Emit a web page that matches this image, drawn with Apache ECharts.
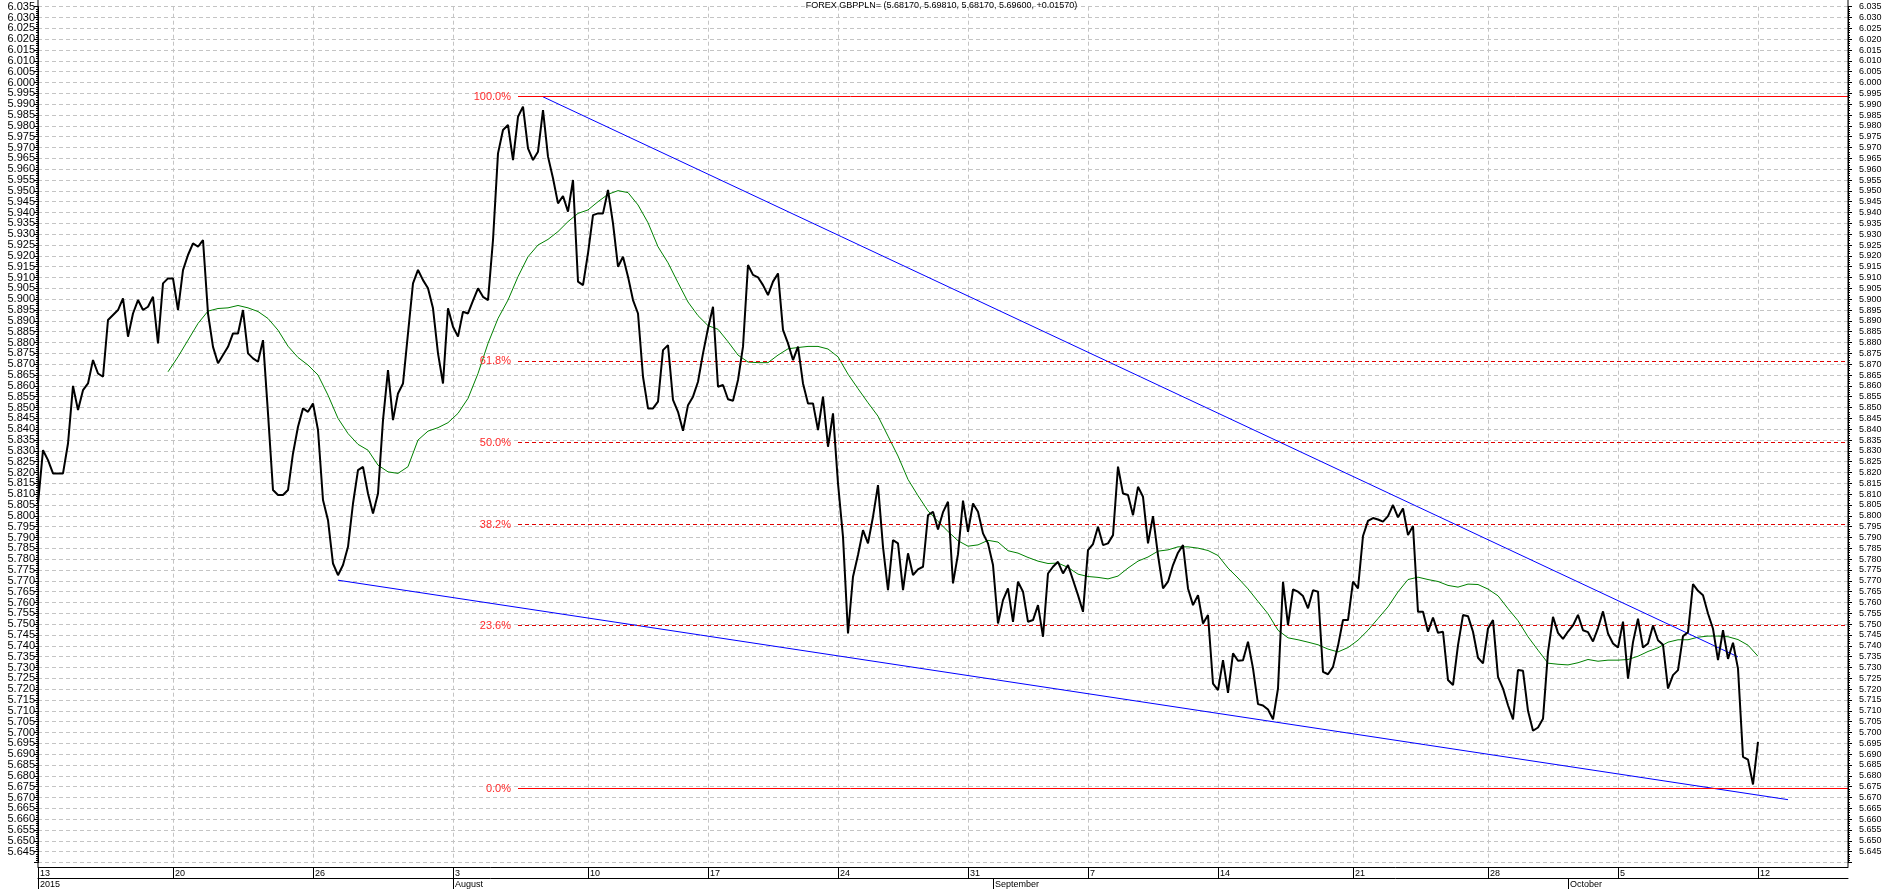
<!DOCTYPE html>
<html>
<head>
<meta charset="utf-8">
<script src="https://cdn.jsdelivr.net/npm/echarts@6/dist/echarts.min.js"></script>
<style>
html,body{margin:0;padding:0;background:#fff;}
#chart{width:1883px;height:889px;}
</style>
</head>
<body>
<div id="chart"></div>
<script>
// ---------- DATA ----------
const titleText = 'FOREX GBPPLN= (5.68170, 5.69810, 5.68170, 5.69600, +0.01570)';

// x slots (one slot per sample on the category axis)
const slotCount = 363;
const categories = Array.from({length: slotCount}, (_, i) => String(i));

// weekly tick labels (slot index -> label)
const dayTickIdx    = [0, 27, 55, 83, 110, 134, 160, 186, 210, 236, 263, 290, 316, 344];
const dayTickLabels = ['13','20','26','3','10','17','24','31','7','14','21','28','5','12'];
// month row labels
const monthTickIdx    = [0, 83, 191, 306];
const monthTickLabels = ['2015','August','September','October'];

// y axis
const yMin = 5.640, yMax = 6.035, yStep = 0.005;

// GBPPLN close, one value per slot
const price = [
 5.8057,5.8303,5.8257,5.8196,5.8196,5.8196,5.8334,5.8600,5.8488,5.8580, // 0
 5.8611,5.8719,5.8657,5.8642,5.8904,5.8927,5.8950,5.9004,5.8827,5.8934, // 10
 5.8996,5.8950,5.8965,5.9011,5.8796,5.9073,5.9096,5.9096,5.8950,5.9134, // 20
 5.9204,5.9258,5.9242,5.9273,5.8934,5.8780,5.8704,5.8742,5.8780,5.8842, // 30
 5.8842,5.8950,5.8750,5.8727,5.8711,5.8811,5.8473,5.8119,5.8096,5.8096, // 40
 5.8119,5.8288,5.8411,5.8496,5.8480,5.8519,5.8396,5.8073,5.7980,5.7780, // 50
 5.7726,5.7773,5.7857,5.8057,5.8211,5.8226,5.8103,5.8011,5.8103,5.8442, // 60
 5.8673,5.8442,5.8565,5.8611,5.8842,5.9073,5.9135,5.9088,5.9050,5.8958, // 70
 5.8750,5.8611,5.8958,5.8873,5.8827,5.8942,5.8934,5.8993,5.9050,5.9011, // 80
 5.8996,5.9273,5.9673,5.9781,5.9804,5.9642,5.9842,5.9889,5.9696,5.9642, // 90
 5.9681,5.9873,5.9658,5.9558,5.9442,5.9476,5.9404,5.9550,5.9081,5.9065, // 100
 5.9212,5.9388,5.9396,5.9396,5.9504,5.9350,5.9150,5.9196,5.9104,5.8996, // 110
 5.8934,5.8642,5.8496,5.8496,5.8527,5.8765,5.8788,5.8535,5.8480,5.8393, // 120
 5.8511,5.8550,5.8619,5.8750,5.8865,5.8965,5.8596,5.8604,5.8538,5.8531, // 130
 5.8627,5.8781,5.9158,5.9112,5.9101,5.9065,5.9019,5.9081,5.9119,5.8858, // 140
 5.8796,5.8719,5.8781,5.8611,5.8519,5.8519,5.8396,5.8550,5.8319,5.8473, // 150
 5.8150,5.7903,5.7457,5.7719,5.7819,5.7934,5.7873,5.7996,5.8142,5.7857, // 160
 5.7657,5.7888,5.7873,5.7657,5.7827,5.7727,5.7753,5.7765,5.8003,5.8019, // 170
 5.7937,5.8017,5.8065,5.7688,5.7823,5.8070,5.7926,5.8057,5.8019,5.7919, // 180
 5.7873,5.7773,5.7503,5.7611,5.7665,5.7511,5.7696,5.7650,5.7511,5.7519, // 190
 5.7588,5.7442,5.7734,5.7765,5.7788,5.7734,5.7773,5.7704,5.7634,5.7557, // 200
 5.7842,5.7870,5.7950,5.7865,5.7873,5.7911,5.8227,5.8103,5.8096,5.8003, // 210
 5.8134,5.8088,5.7873,5.7999,5.7819,5.7665,5.7696,5.7773,5.7830,5.7865, // 220
 5.7665,5.7588,5.7634,5.7503,5.7542,5.7226,5.7196,5.7334,5.7183,5.7365, // 230
 5.7331,5.7334,5.7419,5.7296,5.7131,5.7125,5.7106,5.7061,5.7203,5.7696, // 240
 5.7496,5.7660,5.7650,5.7630,5.7573,5.7657,5.7650,5.7280,5.7269,5.7303, // 250
 5.7400,5.7519,5.7519,5.7696,5.7665,5.7907,5.7977,5.7990,5.7983,5.7973, // 260
 5.7999,5.8050,5.7993,5.8034,5.7911,5.7953,5.7557,5.7557,5.7465,5.7531, // 270
 5.7460,5.7465,5.7242,5.7219,5.7403,5.7542,5.7537,5.7465,5.7345,5.7319, // 280
 5.7480,5.7519,5.7257,5.7203,5.7126,5.7060,5.7288,5.7285,5.7100,5.7008, // 290
 5.7023,5.7063,5.7371,5.7534,5.7460,5.7432,5.7466,5.7494,5.7543,5.7472, // 300
 5.7463,5.7420,5.7482,5.7559,5.7457,5.7411,5.7392,5.7512,5.7249,5.7417, // 310
 5.7525,5.7392,5.7411,5.7494,5.7426,5.7405,5.7203,5.7265,5.7288,5.7445, // 320
 5.7463,5.7685,5.7654,5.7634,5.7549,5.7479,5.7334,5.7472,5.7340,5.7414, // 330
 5.7295,5.6888,5.6875,5.6760,5.6957                                    // 340
];

// moving average (green), read every 2 slots starting at slot 26
const maStart = 26, maStep = 2;
const maVals = [
 5.8665,5.8734,5.8811,5.8888,5.8945,5.8957,5.8960,5.8971,5.8960,5.8943,
 5.8911,5.8857,5.8783,5.8731,5.8696,5.8650,5.8557,5.8450,5.8380,5.8330,
 5.8303,5.8234,5.8203,5.8196,5.8227,
 5.8350,5.8391,5.8407,5.8430,5.8473,5.8542,5.8657,5.8796,5.8911,5.8996,
 5.9104,5.9196,5.9250,5.9276,5.9312,5.9358,5.9396,5.9412,5.9450,5.9484,
 5.9501,5.9492,5.9435,5.9353,5.9242,5.9168,5.9076,5.8987,5.8924,5.8878,
 5.8861,5.8804,5.8742,5.8710,5.8707,5.8707,5.8742,
 5.8771,5.8777,5.8782,5.8782,5.8770,5.8734,5.8654,5.8587,5.8522,5.8460,
 5.8368,5.8276,5.8168,5.8093,5.8023,5.7974,5.7928,5.7885,5.7860,5.7866,
 5.7887,5.7879,5.7839,5.7828,5.7808,5.7791,5.7780,5.7782,5.7762,5.7731,
 5.7720,5.7716,5.7709,5.7722,5.7759,5.7791,5.7810,
 5.7837,5.7843,5.7857,5.7857,5.7851,5.7840,5.7817,5.7759,5.7713,5.7663,
 5.7605,5.7548,5.7472,5.7437,5.7428,5.7417,5.7405,5.7385,5.7372,5.7392,
 5.7426,5.7472,5.7526,5.7580,5.7649,5.7706,5.7717,5.7706,5.7697,5.7679,
 5.7671,5.7685,5.7683,5.7662,5.7631,5.7572,5.7516,
 5.7442,5.7380,5.7320,5.7315,5.7312,5.7322,5.7337,5.7329,5.7334,5.7334,
 5.7337,5.7352,5.7374,5.7391,5.7417,5.7428,5.7428,5.7440,5.7445,5.7445,
 5.7442,5.7429,5.7403,5.7352
];

// trend lines: [slot, value] end points
const trendUpper = [[101, 5.9934], [340, 5.7349]];
const trendLower = [[60, 5.7703], [350, 5.6690]];

// Fibonacci retracement levels
const fibLabels = ['100.0%', '61.8%', '50.0%', '38.2%', '23.6%', '0.0%'];
const fibValues = [5.9935, 5.8714, 5.8338, 5.7960, 5.7494, 5.6741];
const fibStartSlot = 96, fibEndSlot = 362;

// ---------- CHART ----------
const FONT = '"Liberation Sans", Arial, sans-serif';
const chart = echarts.init(document.getElementById('chart'), null, {renderer: 'canvas'});

const isDay = (i) => dayTickIdx.indexOf(Number(i)) >= 0;
const isMonth = (i) => monthTickIdx.indexOf(Number(i)) >= 0;
const gridDash = {color: '#c4c4c4', width: 1, type: [4, 3]};

const yBase = {
  type: 'value', min: yMin, max: yMax, interval: yStep, scale: true,
  axisLine: {show: true, lineStyle: {color: '#000', width: 1}},
  axisTick: {show: true, length: 4, lineStyle: {color: '#000', width: 1}},
  minorTick: {show: true, splitNumber: 5, length: 2, lineStyle: {color: '#000', width: 1}},
  minorSplitLine: {show: false}
};

const fibMarks = fibValues.map((v, k) => {
  const solid = (k === 0 || k === fibValues.length - 1);
  return [
    {coord: [fibStartSlot, v],
     lineStyle: {color: solid ? '#ff0000' : '#e00000', width: 1, type: solid ? 'solid' : [4, 3]},
     label: {show: true, position: 'start', formatter: fibLabels[k], color: '#ff2a2a',
             fontSize: 11, fontFamily: FONT, distance: 7}},
    {coord: [fibEndSlot, v]}
  ];
});

const option = {
  animation: false,
  backgroundColor: '#ffffff',
  title: {
    text: titleText, left: 'center', top: 0, padding: [1, 0, 0, 0],
    textStyle: {fontSize: 9, fontWeight: 'normal', color: '#000', fontFamily: FONT}
  },
  grid: {left: 38, right: 35, top: 6.7, bottom: 26.5, containLabel: false, outerBoundsMode: 'none'},
  xAxis: [
    {
      type: 'category', data: categories, boundaryGap: false, position: 'bottom', offset: 4.5,
      axisLine: {show: true, lineStyle: {color: '#000', width: 1}},
      axisTick: {show: true, interval: (i) => isDay(i), length: 11, lineStyle: {color: '#000', width: 1}},
      axisLabel: {
        show: true, interval: (i) => isDay(i), align: 'left', margin: 2, padding: [0, 0, 0, 2],
        fontSize: 9, fontFamily: FONT, color: '#000',
        formatter: (v) => { const k = dayTickIdx.indexOf(Number(v)); return k >= 0 ? dayTickLabels[k] : ''; }
      },
      splitLine: {show: true, interval: (i) => isDay(i), lineStyle: gridDash}
    },
    {
      type: 'category', data: categories, boundaryGap: false, position: 'bottom', offset: 15.5,
      axisLine: {show: true, lineStyle: {color: '#000', width: 1}},
      axisTick: {show: true, interval: (i) => isMonth(i), length: 11, lineStyle: {color: '#000', width: 1}},
      axisLabel: {
        show: true, interval: (i) => isMonth(i), align: 'left', margin: 2, padding: [0, 0, 0, 2],
        fontSize: 9, fontFamily: FONT, color: '#000',
        formatter: (v) => { const k = monthTickIdx.indexOf(Number(v)); return k >= 0 ? monthTickLabels[k] : ''; }
      },
      splitLine: {show: false}
    }
  ],
  yAxis: [
    Object.assign({}, yBase, {
      position: 'left',
      axisLabel: {fontSize: 11, fontFamily: FONT, color: '#000', margin: 3,
        formatter: (v) => (Math.abs(v - yMin) < 1e-9 ? '' : v.toFixed(3))},
      splitLine: {show: true, lineStyle: gridDash}
    }),
    Object.assign({}, yBase, {
      position: 'right',
      axisLabel: {fontSize: 9, fontFamily: FONT, color: '#000', margin: 11,
        formatter: (v) => (Math.abs(v - yMin) < 1e-9 ? '' : v.toFixed(3))},
      splitLine: {show: false}
    })
  ],
  graphic: [
    {type: 'line', silent: true, z: 100, shape: {x1: 38, y1: 0, x2: 38, y2: 867}, style: {stroke: '#000', lineWidth: 1}},
    {type: 'line', silent: true, z: 100, shape: {x1: 1848, y1: 0, x2: 1848, y2: 867}, style: {stroke: '#000', lineWidth: 1}}
  ],
  series: [
    {
      name: 'fib', type: 'line', data: [], xAxisIndex: 0, yAxisIndex: 0, z: 2,
      markLine: {silent: true, symbol: ['none', 'none'], animation: false, data: fibMarks}
    },
    {
      name: 'ma', type: 'line', xAxisIndex: 0, yAxisIndex: 0, z: 3,
      data: maVals.map((v, k) => [maStart + k * maStep, v]),
      symbol: 'none', lineStyle: {color: '#008000', width: 1}
    },
    {
      name: 'upper', type: 'line', xAxisIndex: 0, yAxisIndex: 0, z: 4,
      data: trendUpper, symbol: 'none', lineStyle: {color: '#0000ff', width: 1}
    },
    {
      name: 'lower', type: 'line', xAxisIndex: 0, yAxisIndex: 0, z: 4,
      data: trendLower, symbol: 'none', lineStyle: {color: '#0000ff', width: 1}
    },
    {
      name: 'GBPPLN', type: 'line', xAxisIndex: 0, yAxisIndex: 0, z: 5,
      data: price, symbol: 'none', lineStyle: {color: '#000000', width: 2}
    }
  ]
};
chart.setOption(option);
</script>
</body>
</html>
